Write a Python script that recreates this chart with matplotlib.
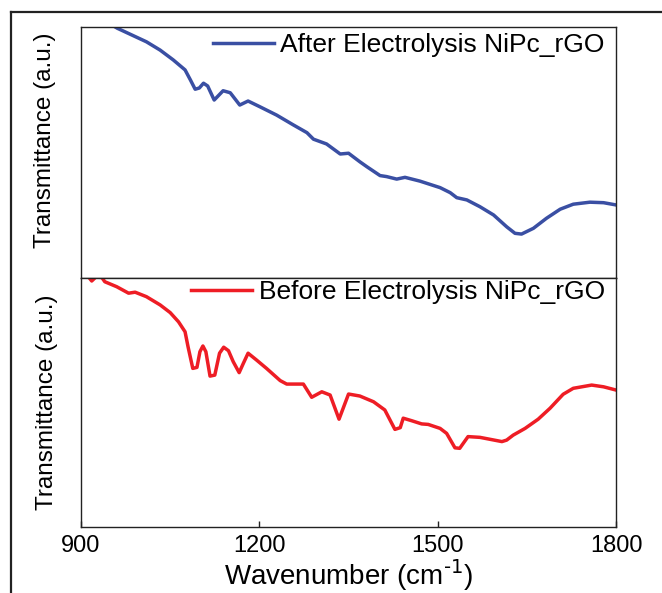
import matplotlib
matplotlib.use("Agg")
import matplotlib.pyplot as plt
from matplotlib.lines import Line2D
import numpy as np

plt.rcParams['font.family'] = ['Liberation Sans', 'DejaVu Sans']

# After electrolysis (blue, upper panel), arbitrary transmittance units
wn_after = [900, 930, 961, 1010, 1033, 1055, 1075, 1084, 1092, 1099, 1106, 1113,
            1124, 1139, 1151, 1167, 1181, 1201, 1229, 1257, 1280, 1291, 1313,
            1336, 1350, 1369, 1381, 1403, 1414, 1431, 1445, 1470, 1504, 1521,
            1532, 1549, 1571, 1594, 1616, 1630, 1641, 1661, 1683, 1706, 1728,
            1756, 1779, 1800]
t_after = [108, 104, 99.5, 94.1, 90.8, 86.9, 82.9, 78.9, 75.2, 75.7, 77.6, 76.5,
           70.9, 74.6, 73.8, 68.9, 70.5, 68.2, 64.9, 61.0, 57.9, 55.3, 53.4,
           49.4, 49.7, 46.3, 44.3, 40.8, 40.4, 39.4, 40.1, 38.6, 36.0, 34.0,
           32.0, 31.1, 28.4, 25.1, 20.4, 17.8, 17.5, 19.8, 23.8, 27.4, 29.4,
           30.2, 30.0, 29.1]

# Before electrolysis (red, lower panel)
wn_before = [900, 912, 918, 925, 935, 940, 949, 960, 980, 991, 1010, 1033, 1050,
             1064, 1075, 1080, 1088, 1095, 1100, 1105, 1110, 1117, 1125, 1133,
             1140, 1148, 1156, 1166, 1173, 1181, 1195, 1212, 1235, 1246, 1274,
             1288, 1305, 1319, 1334, 1350, 1369, 1392, 1411, 1428, 1437, 1442,
             1456, 1473, 1484, 1504, 1515, 1529, 1537, 1551, 1571, 1608, 1616,
             1627, 1647, 1669, 1689, 1711, 1728, 1759, 1779, 1800]
t_before = [101.5, 100.6, 98.8, 100.4, 100.2, 98.5, 97.6, 96.5, 93.9, 94.3, 92.5,
            89.2, 86.1, 82.4, 78.4, 72.4, 63.7, 64.1, 70.4, 72.7, 70.4, 60.6,
            61.0, 69.8, 72.2, 70.8, 66.4, 62.0, 65.7, 69.8, 67.1, 63.7, 58.8,
            57.4, 57.4, 52.1, 54.3, 53.0, 43.3, 53.4, 52.6, 50.3, 47.0, 39.2,
            39.9, 43.7, 42.7, 41.4, 41.2, 39.6, 37.6, 31.8, 31.6, 36.3, 36.0,
            34.3, 34.9, 36.9, 39.6, 43.3, 47.7, 53.3, 55.7, 57.0, 56.3, 55.0]

xticks = [900, 1200, 1500, 1800]

fig = plt.figure(figsize=(6.62, 5.93), dpi=100)
ax1 = fig.add_axes([0.1224, 0.5312, 0.8082, 0.4233])
ax2 = fig.add_axes([0.1224, 0.1113, 0.8082, 0.4199], sharex=ax1)

ax1.plot(wn_after, t_after, color='#3a4fa3', lw=2.5, solid_joinstyle='round',
         label='After Electrolysis NiPc_rGO')
ax2.plot(wn_before, t_before, color='#ee1d25', lw=2.5, solid_joinstyle='round',
         label='Before Electrolysis NiPc_rGO')

for ax in (ax1, ax2):
    ax.set_ylim(0, 100)
    ax.set_yticks([])
    for s in ax.spines.values():
        s.set_linewidth(1.0)
        s.set_color('#222222')

ax1.set_xlim(900, 1800)
ax1.tick_params(axis='x', bottom=False, labelbottom=False)
ax2.set_xticks(xticks)
ax2.tick_params(axis='x', direction='in', length=4, width=1.0, color='#222222',
                labelsize=17, pad=6)

ax1.set_ylabel('Transmittance (a.u.)', fontsize=17.5)
ax2.set_ylabel('Transmittance (a.u.)', fontsize=17.5)
ax1.yaxis.set_label_coords(-0.047, 0.55)
ax2.yaxis.set_label_coords(-0.043, 0.50)
ax2.set_xlabel('Wavenumber (cm$^{\\text{-1}}$)', fontsize=20, labelpad=0)

ax1.legend(loc='center right', bbox_to_anchor=(0.979, 0.928), frameon=False,
           fontsize=19, handlelength=2.3, handletextpad=0.25, borderpad=0, borderaxespad=0)
ax2.legend(loc='center right', bbox_to_anchor=(0.979, 0.944), frameon=False,
           fontsize=19, handlelength=2.3, handletextpad=0.25, borderpad=0, borderaxespad=0)

# outer frame (left and top only)
fig.add_artist(Line2D([11/662, 11/662], [0, 1 - 12/593], color='#222222', lw=1.6))
fig.add_artist(Line2D([11/662, 1], [1 - 12/593, 1 - 12/593], color='#222222', lw=1.6))

fig.savefig('out.png', dpi=100)
